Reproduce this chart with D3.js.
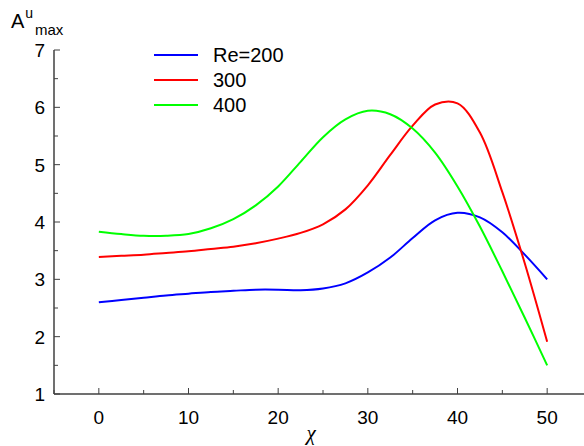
<!DOCTYPE html>
<html>
<head>
<meta charset="utf-8">
<script src="https://cdn.jsdelivr.net/npm/d3@7"></script>
<style>
  body { margin: 0; background: #fff; }
  svg { font-family: "Liberation Sans", Arial, sans-serif; }
</style>
</head>
<body>
<div id="canvas"></div>
<script>
const chi = [0, 2.5, 5, 7.5, 10, 12.5, 15, 17.5, 20, 22.5, 25, 27.5, 30, 32.5, 35, 37.5, 40, 42.5, 45, 47.5, 50]

const re200 = [2.60, 2.64, 2.68, 2.72, 2.75, 2.78, 2.80, 2.82, 2.82, 2.81, 2.84, 2.93, 3.12, 3.38, 3.72, 4.03, 4.16, 4.08, 3.82, 3.43, 3.00]
const re300 = [3.39, 3.41, 3.43, 3.46, 3.49, 3.53, 3.57, 3.63, 3.71, 3.81, 3.96, 4.22, 4.64, 5.17, 5.68, 6.05, 6.07, 5.56, 4.52, 3.28, 1.91]
const re400 = [3.83, 3.79, 3.76, 3.76, 3.79, 3.89, 4.05, 4.29, 4.62, 5.05, 5.48, 5.79, 5.94, 5.88, 5.63, 5.21, 4.62, 3.92, 3.14, 2.33, 1.50]

const seriesNames = ["Re=200", "300", "400"]
const seriesColors = ["#0000ff", "#ff0000", "#00ff00"]
const seriesValues = [re200, re300, re400]

const xTicks = [0, 10, 20, 30, 40, 50]
const yTicks = [1, 2, 3, 4, 5, 6, 7]

const width = 584
const height = 446
const margin = { top: 50, left: 54, bottom: 52, right: -8 }
const iwidth = width - margin.left - margin.right
const iheight = height - margin.top - margin.bottom

const svg = d3.select("#canvas").append("svg")
    .attr("width", width)
    .attr("height", height)

const g = svg.append("g")
    .attr("transform", `translate(${margin.left}, ${margin.top})`)

const x = d3.scaleLinear().domain([-5, 55]).range([0, iwidth])
const y = d3.scaleLinear().domain([1, 7]).range([iheight, 0])

const axisColor = "#404040"

// minor ticks
const xMinor = d3.range(-5, 56, 5).filter(v => v % 10 !== 0)
const yMinor = d3.range(1.5, 7, 1)

const xAxis = g.append("g")
    .attr("transform", `translate(0, ${iheight})`)
xAxis.append("line")
    .attr("x1", 0).attr("x2", iwidth)
    .attr("stroke", axisColor).attr("stroke-width", 1.5)
xAxis.selectAll(".major").data(xTicks).enter().append("line")
    .attr("x1", d => x(d)).attr("x2", d => x(d))
    .attr("y1", 0).attr("y2", -6)
    .attr("stroke", axisColor)
xAxis.selectAll(".minor").data(xMinor).enter().append("line")
    .attr("x1", d => x(d)).attr("x2", d => x(d))
    .attr("y1", 0).attr("y2", -4)
    .attr("stroke", axisColor)
xAxis.selectAll("text").data(xTicks).enter().append("text")
    .attr("x", d => x(d))
    .attr("y", 30)
    .attr("text-anchor", "middle")
    .style("font-size", "19px")
    .text(d => d)

const yAxis = g.append("g")
yAxis.append("line")
    .attr("y1", 0).attr("y2", iheight)
    .attr("stroke", axisColor).attr("stroke-width", 1.5)
yAxis.selectAll(".major").data(yTicks).enter().append("line")
    .attr("y1", d => y(d)).attr("y2", d => y(d))
    .attr("x1", 0).attr("x2", 6)
    .attr("stroke", axisColor)
yAxis.selectAll(".minor").data(yMinor).enter().append("line")
    .attr("y1", d => y(d)).attr("y2", d => y(d))
    .attr("x1", 0).attr("x2", 4)
    .attr("stroke", axisColor)
yAxis.selectAll("text").data(yTicks).enter().append("text")
    .attr("x", -9)
    .attr("y", d => y(d))
    .attr("dy", "0.36em")
    .attr("text-anchor", "end")
    .style("font-size", "19px")
    .text(d => d)

// curves
const line = d3.line()
    .x(d => x(d[0]))
    .y(d => y(d[1]))
    .curve(d3.curveCatmullRom.alpha(0.5))

seriesValues.forEach((vals, i) => {
    g.append("path")
        .datum(chi.map((c, j) => [c, vals[j]]))
        .attr("fill", "none")
        .attr("stroke", seriesColors[i])
        .attr("stroke-width", 2)
        .attr("d", line)
})

// legend
const legend = svg.append("g")
seriesNames.forEach((name, i) => {
    const ly = 55 + i * 25
    legend.append("line")
        .attr("x1", 154).attr("x2", 198)
        .attr("y1", ly).attr("y2", ly)
        .attr("stroke", seriesColors[i])
        .attr("stroke-width", 2)
    legend.append("text")
        .attr("x", 213).attr("y", ly)
        .attr("dy", "0.36em")
        .style("font-size", "20px")
        .text(name)
})

// axis titles
svg.append("text")
    .attr("x", 311).attr("y", 440)
    .attr("text-anchor", "middle")
    .style("font-family", "'Liberation Serif', serif")
    .style("font-style", "italic")
    .style("font-size", "21px")
    .text("χ")

const ylab = svg.append("text")
    .attr("x", 11).attr("y", 28)
    .style("font-size", "20px")
ylab.append("tspan").text("A")
ylab.append("tspan").attr("dy", -10).attr("dx", 1).style("font-size", "14px").text("u")
ylab.append("tspan").attr("x", 35).attr("y", 35).style("font-size", "15px").text("max")
</script>
</body>
</html>
